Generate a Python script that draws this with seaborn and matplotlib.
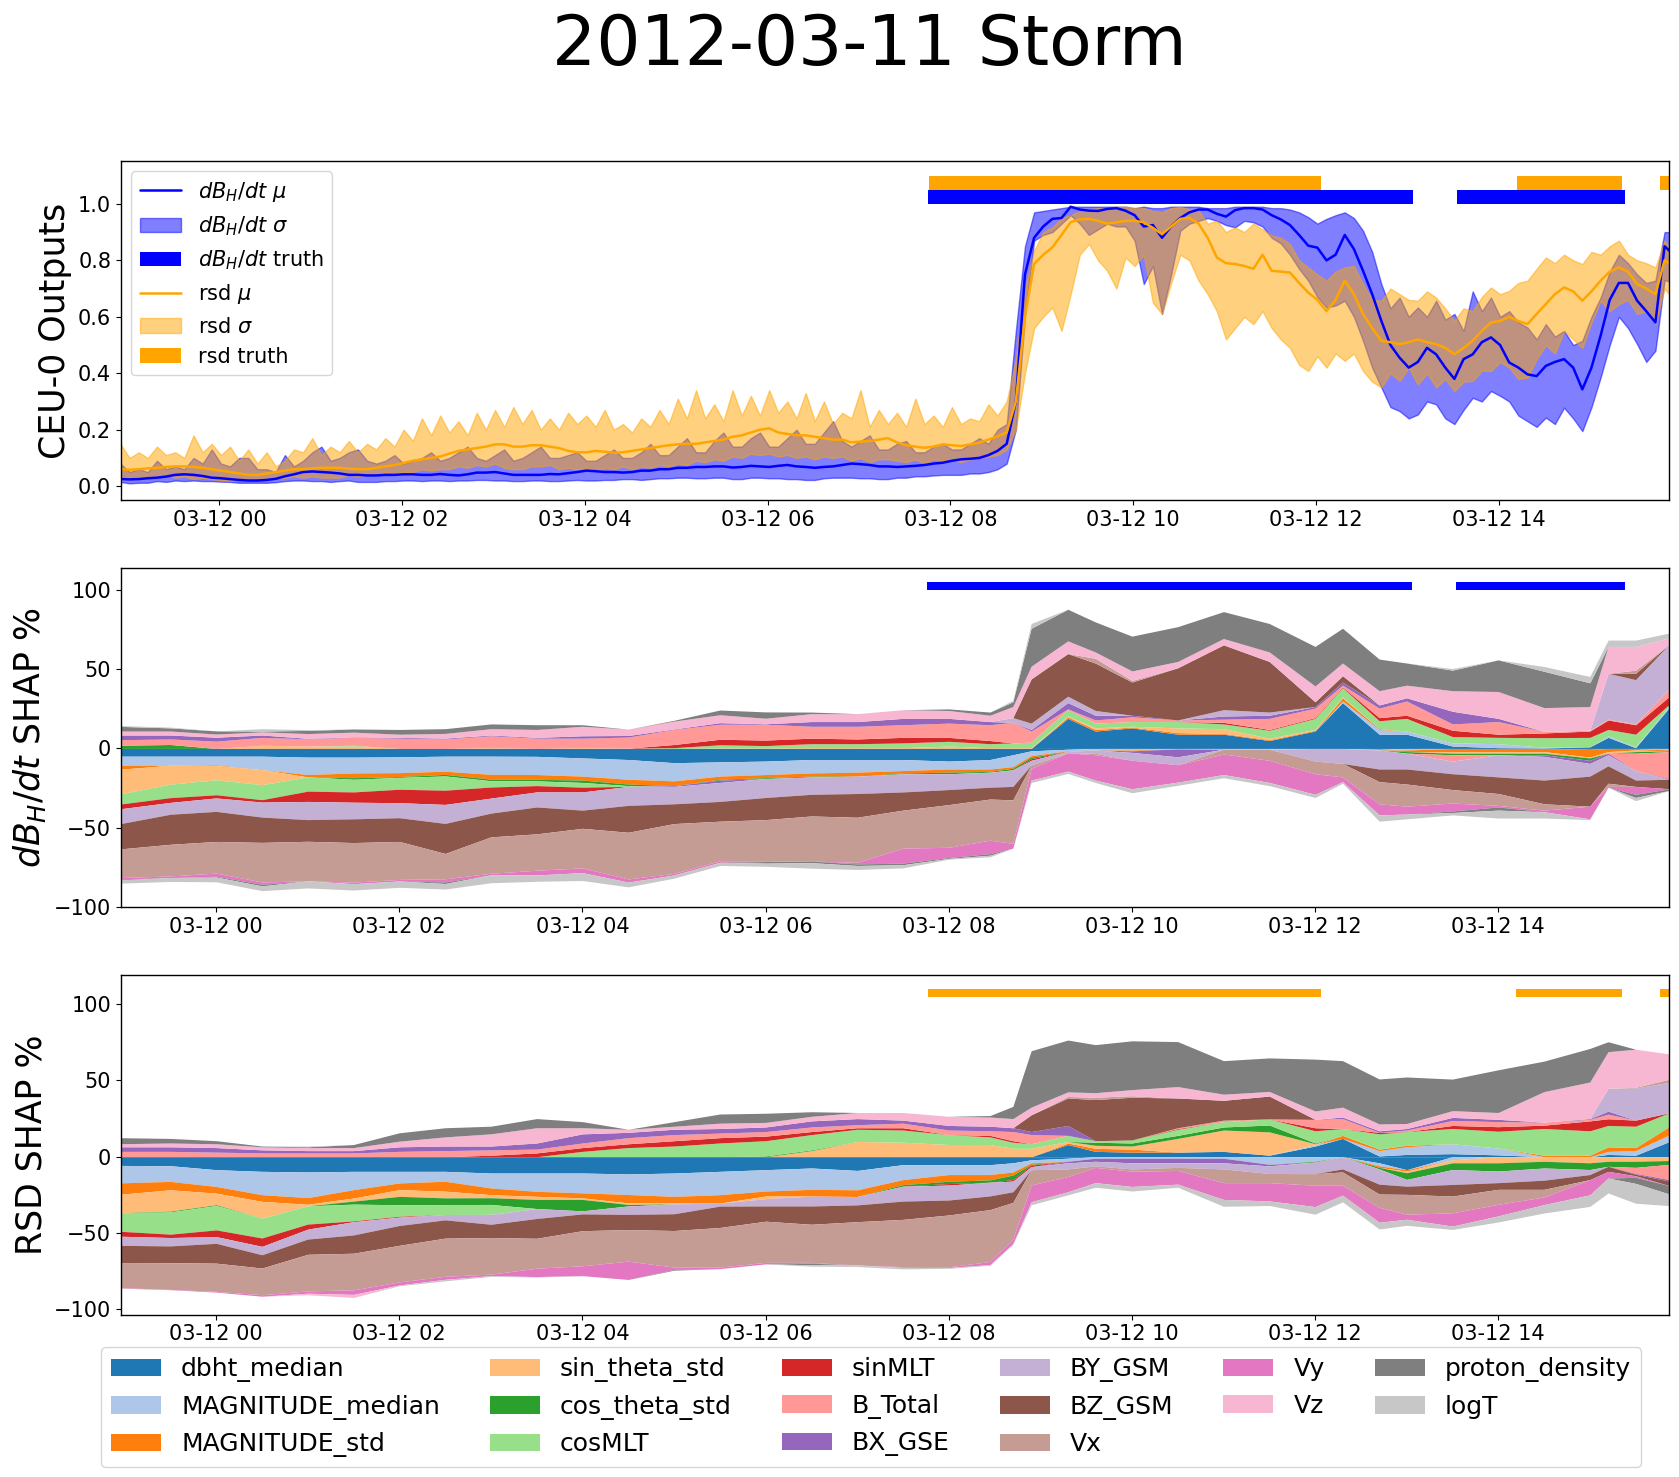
import numpy as np
import pandas as pd
import seaborn as sns
import matplotlib.pyplot as plt
import matplotlib.dates as mdates

sns.set_style("ticks")
plt.rcParams["font.family"] = "DejaVu Sans"
plt.rcParams["text.color"] = "black"
plt.rcParams["axes.labelcolor"] = "black"

storm_title = "2012-03-11 Storm"

features = ["dbht_median", "MAGNITUDE_median", "MAGNITUDE_std", "sin_theta_std", "cos_theta_std",
            "cosMLT", "sinMLT", "B_Total", "BX_GSE", "BY_GSM", "BZ_GSM", "Vx", "Vy", "Vz",
            "proton_density", "logT"]

# model outputs, one reading every 6 minutes from 03-11 22:55 (10 per line = 1 hour)
dbdt_mu = [.025, .024, .025, .028, .03, .034, .04, .042, .04, .036,
           .03, .028, .025, .022, .02, .02, .022, .026, .035, .042,
           .05, .052, .05, .048, .045, .04, .04, .038, .038, .04,
           .04, .042, .042, .04, .04, .043, .04, .038, .042, .048,
           .048, .05, .045, .04, .04, .04, .04, .043, .042, .046,
           .05, .055, .053, .05, .05, .048, .05, .055, .055, .06,
           .06, .065, .065, .068, .068, .07, .07, .066, .068, .072,
           .07, .068, .072, .075, .07, .068, .065, .068, .07, .075,
           .08, .078, .075, .07, .07, .068, .07, .072, .075, .08,
           .083, .09, .095, .097, .1, .11, .125, .15,
           .3, .75,
           .88, .92, .947, .95, .99, .98, .976, .975, .982, .985,
           .976, .96, .92, .925, .88, .92, .95, .97, .98, .98,
           .965, .955, .978, .985, .985, .98, .96, .945, .925, .89,
           .852, .845, .8, .82, .89, .84, .763, .68, .586, .5,
           .455, .42, .44, .49, .467, .42, .38, .45, .467, .51,
           .527, .5, .438, .42, .396, .39, .426, .44, .45, .42,
           .343, .42, .533, .66, .72, .72, .657, .62, .58, .85, .82]
dbdt_up = [.08, .05, .06, .05, .09, .06, .07, .06, .1, .08,
           .13, .08, .07, .1, .1, .06, .06, .05, .11, .07,
           .09, .12, .14, .09, .1, .12, .13, .09, .08, .09,
           .11, .08, .09, .1, .12, .09, .1, .12, .14, .1,
           .09, .11, .13, .09, .1, .12, .14, .1, .1, .11,
           .12, .09, .09, .11, .13, .1, .1, .12, .15, .11,
           .11, .14, .17, .12, .12, .16, .19, .14, .14, .17,
           .19, .14, .14, .17, .2, .15, .15, .19, .23, .16,
           .14, .16, .18, .13, .13, .15, .16, .12, .12, .14,
           .15, .13, .13, .15, .17, .15, .2, .22,
           .55, .85,
           .97, .975, .98, .985, .99, .99, .99, .99, .99, .99,
           .99, .985, .99, .985, .985, .99, .99, .99, .99, .985,
           .985, .985, .99, .99, .99, .99, .985, .985, .98, .97,
           .953, .93, .947, .96, .97, .95, .905, .83, .716, .63,
           .668, .6, .633, .6, .657, .59, .61, .55, .69, .62,
           .668, .6, .62, .58, .562, .52, .574, .53, .55, .5,
           .515, .6, .668, .76, .82, .79, .75, .72, .728, .9, .9]
dbdt_lo = [.015, .01, .012, .012, .018, .015, .02, .018, .02, .018,
           .018, .016, .015, .012, .012, .012, .012, .014, .018, .02,
           .02, .018, .018, .015, .018, .02, .015, .015, .015, .018,
           .018, .02, .02, .018, .02, .02, .018, .02, .02, .022,
           .022, .02, .02, .018, .018, .02, .02, .018, .018, .02,
           .022, .02, .02, .022, .022, .025, .025, .022, .025, .028,
           .028, .03, .03, .028, .028, .03, .03, .025, .025, .03,
           .03, .028, .028, .025, .025, .022, .022, .028, .03, .03,
           .03, .028, .028, .025, .025, .03, .03, .035, .035, .038,
           .04, .04, .04, .045, .045, .05, .06, .08,
           .2, .6,
           .87, .89, .9, .93, .96, .93, .89, .91, .93, .92,
           .92, .87, .716, .78, .61, .75, .905, .93, .94, .95,
           .94, .925, .917, .94, .935, .92, .88, .86, .82, .77,
           .728, .67, .633, .64, .657, .6, .515, .42, .35, .28,
           .266, .24, .254, .3, .29, .24, .22, .27, .313, .3,
           .337, .32, .3, .25, .23, .21, .243, .22, .278, .24,
           .195, .28, .385, .5, .6, .56, .503, .44, .48, .73, .72]
rsd_mu = [.06, .058, .06, .063, .065, .068, .07, .07, .068, .065,
          .06, .055, .05, .045, .04, .04, .045, .05, .055, .06,
          .06, .063, .065, .065, .065, .062, .06, .06, .065, .07,
          .075, .082, .09, .095, .1, .105, .115, .125, .13, .135,
          .14, .148, .148, .14, .14, .145, .145, .14, .135, .125,
          .12, .12, .125, .122, .118, .12, .125, .13, .135, .14,
          .145, .148, .15, .15, .155, .16, .165, .175, .18, .19,
          .2, .205, .19, .185, .18, .18, .175, .17, .165, .165,
          .155, .158, .16, .165, .17, .155, .145, .14, .136, .14,
          .148, .145, .142, .148, .154, .165, .177, .19,
          .3, .6,
          .787, .82, .846, .89, .935, .945, .947, .94, .93, .935,
          .94, .94, .935, .915, .893, .92, .947, .95, .93, .88,
          .81, .79, .787, .78, .77, .82, .763, .76, .757, .72,
          .686, .66, .62, .66, .728, .68, .61, .56, .515, .51,
          .503, .51, .52, .51, .503, .49, .467, .49, .515, .55,
          .58, .585, .6, .585, .574, .61, .645, .68, .704, .69,
          .657, .69, .728, .76, .775, .76, .716, .7, .68, .8, .78]
rsd_up = [.15, .1, .12, .1, .14, .11, .12, .1, .18, .12,
          .15, .11, .14, .09, .13, .08, .12, .07, .09, .13,
          .12, .17, .11, .14, .12, .16, .12, .15, .13, .17,
          .14, .2, .16, .24, .18, .25, .19, .23, .18, .26,
          .2, .27, .21, .28, .22, .27, .2, .24, .2, .26,
          .22, .25, .21, .27, .2, .22, .19, .24, .21, .27,
          .22, .31, .24, .34, .24, .29, .23, .34, .25, .32,
          .25, .34, .26, .3, .24, .33, .23, .3, .22, .26,
          .24, .34, .21, .27, .22, .26, .21, .31, .22, .25,
          .21, .28, .22, .24, .23, .29, .25, .3,
          .45, .7,
          .834, .9, .917, .95, .96, .975, .98, .985, .98, .99,
          .99, .985, .985, .975, .97, .985, .99, .98, .976, .93,
          .94, .9, .917, .9, .93, .91, .888, .88, .858, .8,
          .775, .75, .728, .76, .775, .78, .716, .66, .657, .7,
          .68, .66, .657, .69, .668, .63, .586, .63, .62, .67,
          .704, .68, .692, .72, .728, .77, .81, .79, .82, .8,
          .787, .83, .82, .85, .87, .82, .8, .79, .775, .87, .82]
rsd_lo = [.02, .03, .025, .03, .03, .04, .03, .035, .025, .03,
          .025, .02, .02, .025, .02, .025, .025, .03, .03, .035,
          .03, .035, .03, .03, .03, .04, .035, .04, .04, .05,
          .045, .05, .05, .06, .055, .06, .06, .07, .065, .075,
          .07, .08, .065, .06, .06, .07, .07, .075, .06, .065,
          .06, .065, .055, .065, .06, .07, .06, .07, .065, .075,
          .07, .08, .075, .09, .085, .095, .09, .105, .1, .115,
          .11, .115, .105, .11, .1, .105, .095, .105, .1, .105,
          .09, .1, .085, .095, .095, .09, .085, .095, .08, .095,
          .09, .095, .085, .095, .1, .105, .11, .13,
          .2, .4,
          .56, .6, .633, .55, .68, .82, .858, .8, .763, .7,
          .81, .78, .82, .65, .61, .72, .82, .8, .728, .68,
          .62, .52, .56, .6, .574, .62, .56, .52, .49, .43,
          .408, .46, .42, .47, .444, .47, .408, .37, .35, .4,
          .373, .42, .36, .4, .35, .38, .337, .37, .373, .41,
          .408, .44, .42, .38, .385, .45, .5, .47, .55, .52,
          .49, .58, .657, .62, .645, .66, .61, .62, .574, .7, .66]

# warning periods, hours after 03-12 00:00
dbdt_truth_start = [7.76, 13.54]
dbdt_truth_end = [13.06, 15.38]
rsd_truth_start = [7.77, 14.2, 15.77]
rsd_truth_end = [12.06, 15.35, 16.0]

# SHAP shares are read at these hours after 03-12 00:00
shap_hours = [-1.08, -.5, 0, .5, 1, 1.5, 2, 2.5, 3, 3.5,
              4, 4.5, 5, 5.5, 6, 6.5, 7, 7.5, 8, 8.45,
              8.7, 8.9, 9.3, 9.6, 10, 10.5, 11, 11.5, 12, 12.3,
              12.7, 13, 13.5, 14, 14.5, 15, 15.2, 15.5, 15.87]
none = [0] * 39

# dB/dt SHAP, above zero
dp_dbht = [0] * 20 + [0, 0, 19, 11, 13, 9, 9, 5, 11, 29, 9, 9, 1.5, .5, .3, 1, 7, .5, 26]
dp_magmed = [0] * 29 + [1, 3, 2, 2, 2.5, .5, 0, 1, .5, 1]
dp_magstd = [0] * 22 + [1, 1, .5, 1, .5, .5, .5, 2, .5, 0, 0, 0, 0, 0, 0, 0, 0]
dp_sin = [0, 0, 0, 2, 1.5, 1.5, 0, 0, .5, 0, .5, .2, 0, .3, .3, .5, .5, .5, 1.5, .5,
          .5, .5, .5, 1, .5, 3, 3, 1, .5, .5, 0, 0, 0, 0, 0, 0, 0, 0, 0]
dp_cos = [2, 2.5] + [0] * 37
dp_cosmlt = [0, 0, 0, 0, 0, .5, 0, 0, 0, 0, 0, 0, .5, 2, 1.5, 2.5, 2.5, 3, 3, 2.5,
             3, 3.5, 4, 3, 3, 4, 3, 5, 7, 6, 5, 8, 4, 4, 6, 6, 4, 8, 1]
dp_sinmlt = [0] * 12 + [2, 3.5, 3.5, 3.5, 3, 3.5, 2.5, 2, 0, 0, 0, 0, 0, 0, 1, .5, .5, .5, 2, 2, 4, 2, 3, 4, 6, 6, 5]
dp_btotal = [3.5, 3.5, 4.6, 5, 4.6, 5, 6.5, 6, 7.5, 6.5, 6, 7, 9.5, 9.5, 10, 7.5, 8, 8, 9, 10,
             13, 7, .5, 2, 3, 1, 2, 7, 6, 1, 6, 9, 4, 8, 1, .5, .5, .5, 5]
dp_bx = [3, 2.5, 2.5, 1.5, .3, .3, .5, .5, .5, .5, 1.5, 1, .3, 1, .3, 3, 3, 4, 3, 2,
         0, 1, 4, 3, 1, 0, 2, 2, 1, 2, 2, 2, 8, 2, 0, 0, 0, 0, 0]
dp_by = [0] * 20 + [3, 4, 4, 3, 0, 0, 4, 2, 0, 0, 0, 0, 0, 0, 0, 0, 29, 28, 28]
dp_bz = [0] * 21 + [28, 27, 30, 21, 33, 41, 32, 3, 4, 0, 0, 0, 0, 0, 0, 0, 4, 0]
dp_vx = [0] * 23 + [3, 1, 0, 0, 0, 0, 0, 0, 0, 0, 0, 0, 0, 0, 2, 0]
dp_vz = [2.5, 2.5, 2, 2, 3, 3, 2, 3, 4, 5, 6, 4, 5, 5, 3.5, 5, 5, 5.5, 5, 4,
         7, 8, 8, 4, 6, 4, 4, 6, 10, 8, 9, 8, 13, 17, 15, 15, 17, 15, 4]
dp_proton = [3, 2, 2, .5, 2, 2, 3, 3, 3, 3, 1, 0, .5, 3, 4, 1, 0, 0, 1, 2,
             3, 24, 20, 19, 22, 22, 17, 18, 25, 22, 20, 14, 13, 20, 23, 15, 0, 0, 0]
dp_logt = [.5, .5, 0, 1.5, .5] + [0] * 15 + [1, 3] + [0] * 10 + [1, 0, 3, 4, 4, 4, 3]

# dB/dt SHAP, below zero
dn_dbht = [4.9, 4.9, 4.9, 4.9, 5.5, 5.5, 5.3, 4.9, 4.9, 5, 6, 7, 9, 8.5, 8, 7, 7, 7, 8, 7,
           4, 1.5, .5, 0, 0, 0, 0, 0, 0, 0, .5, 0, 0, 0, 0, .5, 0, 0, 0]
dn_magmed = [5.7, 5.7, 5.5, 8.5, 11, 10, 10, 9.5, 11.5, 11.5, 11.5, 12.5, 11.5, 9, 8.5, 8.5, 8, 7, 5, 6,
             7.5, 3, 1, 1, 1, .3, .5, .5, 0, 0, .5, 1, 0, 0, 0, 0, 0, 0, 1]
dn_magstd = [2.7, 0, .4, 0, 1.5, 3, 2.5, 2, 3, 3, 2.5, 3, 3, 2, 2, 2, 2.5, 1.5, 2, 1.5,
             1, 1, .3, 0, .5, 0, 0, 0, 0, 0, 0, 1, 2, 2, 2, 5, 2, 1, .5]
dn_sin = [15.8, 12, 9, 9.5] + [0] * 28 + [1, 1, 1, .5, 1, 1, 0]
dn_cos = [0, 0, 0, 0, 0, 1, .5, 1, 1, 1, 1.5, 1, 0, .5, .5, .5, 0, .5, 1, .5,
          1, 1, 0, 0, 0, 0, 0, 0, 0, 0, 0, 1, 1, 1, 1, 1.5, 0, 1, .5]
dn_cosmlt = [6.3, 8.5, 9.5, 9.5, 9, 8, 7.5, 9, 4, 3, 3, .5] + [0] * 27
dn_sinmlt = [3, 3, 2, 1.5, 6.5, 6.5, 8.5, 9, 7, 4, 3] + [0] * 10 + [1] + [0] * 17
dn_btotal = [0] * 32 + [4, 0, 0, 0, 0, 11, 17]
dn_bx = [0] * 12 + [.5, 1.5] + [0] * 10 + [1, 5] + [0] * 8 + [1, 2, 1, 0, .5]
dn_by = [9.5, 7.5, 8.5, 9.5, 11.5, 10.5, 9.5, 12, 9.5, 9.5, 11.5, 12, 11, 12, 12, 11, 11, 11.5, 10, 9.5,
         10.5, 3, 1, 2, 5, 5, 0, 0, 8, 9.5, 12, 10, 8, 14, 15, 8, 7, 6, 0]
dn_bz = [15.8, 19, 19, 16, 13.7, 15, 15, 19, 15, 17, 11.5, 17, 12.5, 12.5, 14, 13.7, 15, 11.5, 9.5, 7.5,
         8.5, 0, 0, 0, 0, 0, 0, 0, 0, 0, 8, 9.5, 10, 10.5, 15, 19, 11, 4, 6]
dn_vx = [18, 20, 20, 25, 25, 25, 24, 16, 23, 23, 25, 29.5, 31.5, 25, 26, 28.5, 28.5, 24, 27, 26,
         27.5, 2, 0, 1, 0, 0, 3, 7, 8, 8.5, 14, 14, 8.5, 7.5, 4, 0, 2, 0, 0]
dn_vy = [1, 1, 2, 1.5, 0, 1, 1, 2, 1, 3, 3, 2, 1, 1, .5, 0, 1, 9.5, 6.5, 8.5,
         3, 7.5, 11.5, 16, 18, 11, 13, 14, 13, 3, 7, 5, 5, 1, 1, 8, .5, 5, 0]
dn_proton = [.5, 0, .5, 1, 0, 0, 0, 1, 0, 0, 0, 0, 0, 0, 1, 1, 1, 1, .5, 1,
             0, 0, 0, 0, 0, 0, 0, 0, 0, 0, 0, 0, 1, 2, 0, 0, 0, 2, 1]
dn_logt = [2, 2.5, 3, 3, 4.5, 4, 4, 3.5, 5, 4, 5, 3, 2, 2, 2, 3.5, 2.5, 2, .5, 1,
           0, 1.5, 1.5, 1.5, 2.5, 2, 2, 2, 2, 1, 4, 3, 1.5, 5, 4, .5, 0, 2, 0]

# RSD SHAP, above zero
rp_dbht = [0] * 22 + [8, 3.5, 3, 3, 3.5, 1, 7, 12, .5, 1.5, 2, 1.2, 0, 0, 1.5, 1, 10]
rp_magmed = [0] * 28 + [1, 0, 3.5, 5, 6.5, 4.5, 0, 0, 2, 3, 4.4]
rp_magstd = [0] * 22 + [1, 2, 2, 0, 0, 0, 0, 2, 1, 1, 0, 0, 1, 1, 3, 2, 5.5]
rp_sin = [0] * 15 + [4, 10, 9.5, 8, 8, 5.5, 5.5, 1, 2, 2, 9, 14, 15.3, .5] + [0] * 10
rp_cos = [0] * 14 + [.5, .5] + [0] * 7 + [2, 2, 2, 2, 4.5, .5] + [0] * 10
rp_cosmlt = [0] * 10 + [3.5, 6, 7, 9, 10, 10, 8, 8, 6.5, 5, 4, 3, 4, 1, 2, 4, 3.5, 4, 8, 4.5,
                        10, 9, 10, 11, 17.5, 16, 14, 14, 9]
rp_sinmlt = [0] * 8 + [1, 2.5, 2.5, 2.5, 3.5, 3.5, 3, 2, 1, 1.5, 0, 1, 1, 0, 0, 0, 0, .5, 0, 0, 2, 0,
                       1, 0, 2, 3, 2.2, 6.5, 4.4, 4, 0]
rp_btotal = [3.5, 3.5, 3, 2.5, 2.5, 2.5, 3.5, 4, 3.5, 2.5, 3, 4, 4, 3, 3, 3, 2, 3, 3, 3,
             6, 6, 0, 0, 0, .5, 1, 0, 5.5, 6.5, 0, 1, 3.3, 3.3, 2, 1, 3, 0, 0]
rp_bx = [3, 3, 3, 2, 1.5, 1.5, 3, 3, 2.5, 4, 6, 3.5, 3.5, 3, 3, 4, 4, 2, 3, 3,
         2.5, 2, 6.5, 0, 0, 0, 0, 0, 0, 1, 1, 1, 2, 1.5, 0, .5, 2, 0, 0]
rp_by = [0] * 36 + [15, 21, 20]
rp_bz = [0] * 21 + [11, 18, 27, 28, 19.5, 13, 15] + [0] * 11
rp_vx = [0] * 22 + [1, 1.5, 1] + [0] * 12 + [.5, 2]
rp_vz = [2, 2.5, 2.5, 2, 2, 2, 3.7, 6, 8, 10, 4, 2, 2, 3.5, 3, 3, 4, 5, 6, 6,
         6, 5, 3, 3, 4, 7.5, 4, 3, 5.5, 6.5, 4.5, 3.3, 4.4, 4.5, 20, 24, 24, 25, 16.5]
rp_proton = [4, 3, 2, .5, .5, 2, 5.5, 6, 5, 6, 4, 0, 3, 6, 6, 3, 0, 0, 0, 1,
             8, 37, 34, 31.5, 32, 29.5, 22, 22, 34, 30.5, 29.5, 30.5, 20.7, 28, 20, 22, 6.5, 0, 0]
rp_logt = [0, 0, 0, 0, .5] + [0] * 34

# RSD SHAP, below zero
rn_dbht = [5.7, 5.9, 8.5, 9.6, 10, 9.6, 9.6, 9.6, 10.7, 10.7, 10.7, 11.3, 10.7, 9.6, 8.5, 7.4, 9, 5.2, 5.2, 5.2,
           4, 2, 1, 0, 0, 0, 0, 0, 0, 0, 4, 8.5, 0, 0, 0, 0, 0, 0, 0]
rn_magmed = [11.5, 10.3, 11, 15.3, 16.8, 12, 7.6, 6.5, 9.8, 12, 13, 13.5, 15.3, 15.3, 14, 14, 12.7, 9.8, 6.5, 6.5,
             6, 2, 2, 1, 1, 1, 1, 5, 3, 0, 2, 0, 2, 0, 0, 0, 0, 0, 0]
rn_magstd = [7.6, 5.5, 4.4, 4.4, 4.4, 5.5, 4.4, 6.5, 4.4, 3.3, 3.3, 5.5, 4.4, 5.5, 3.3, 4.4, 4.4, 3.3, 4.4, 3.5,
             2, 1, 0, 0, 0, 0, 0, 0, 0, 0, 1, 1, 0, 0, 0, 0, 0, 0, 0]
rn_sin = [12, 14, 7.6, 11, 1, 2, 4.4, 4.4, 2, 2, 1, 1, .5, 0, 1.7, 0, 0, 0, 0, 0,
          0, 0, 0, 0, 0, 0, 0, 0, 0, 0, 0, 1, 2, 4, 3, 4, 3, 3, 2.5]
rn_cos = [0, .5, .5, 0, 0, 2, 5.5, 4.4, 4.4, 6, 7.5, 1, 0, 0, 0, 0, 0, 1, 1.5, 1.5,
          3, .5, 0, 0, 0, 0, 0, 0, .5, 0, 1, 4.4, 4.4, 5.4, 4.4, 4.4, 3.3, 4, 2.5]
rn_cosmlt = [12, 14.6, 16, 13, 12, 11, 7.6, 6.5, 6.5] + [0] * 30
rn_sinmlt = [3.3, 2.2, 4.4, 5.5, 3.3, .5, .5] + [0] * 11 + [1, 0, 1, 1] + [0] * 17
rn_btotal = [0] * 37 + [4, 10]
rn_bx = [0] * 22 + [1, 2, 3, 3, 3, 1] + [0] * 9 + [.5, 1]
rn_by = [6, 5.5, 4.4, 5.5, 6.5, 8.7, 5.5, 3.5, 6.5, 6.5, 2, 5.5, 6.5, 2, 4.8, 6.5, 5.5, 9.8, 9.8, 9,
         7, 2, 4, 3, 4, 3, 4, 5, 7.6, 8, 10, 4.4, 9.8, 7.6, 8, 3.3, 0, 0, 0]
rn_bz = [11.3, 11, 13, 8.7, 10, 12, 13, 12, 8.7, 13, 11, 10, 11, 14, 10, 12, 11, 12, 9.8, 9,
         7, 0, 0, 0, 0, 0, 0, 0, 0, 2, 6.5, 5.4, 7.6, 4.4, 6, 3.3, 3.3, 1, 3]
rn_vx = [16.4, 17.5, 18.5, 17.5, 24, 24, 24, 25, 24, 19.6, 23, 20.7, 24, 26, 27, 25, 28.4, 31, 34, 34,
         24, 10, 5, 1, 1.5, 2, 9, 6, 7.6, 8.7, 8.7, 13, 11, 9.8, 5, 0, 0, 0, 0]
rn_vy = [.3, .2, .5, 1, 1.5, 3, 2, 2, 1, 5.5, 6.5, 12, 1.5, 1, 1, .5, 0, .5, .5, 2,
         3, 11, 10, 10, 10, 9, 11, 12, 14, 6.5, 9.8, 3.3, 8.7, 7.6, 5, 10, 4.4, 1, 0]
rn_vz = [0, 0, 0, 0, 1, 2] + [0] * 33
rn_proton = [0] * 12 + [.5, 0, 0, 1] + [0] * 21 + [4, 5.5]
rn_logt = [0, 0, 0, 0, 0, 0, .5, 1, .5, .3, 0, 0, 0, 0, 0, 1, 1, 1, .5, .5,
           .5, 2, 2, 3, 3, 2, 4.5, 3, 5, 4.4, 4.4, 4, 2.2, 4, 5.5, 7.6, 9.8, 13, 7.6]

dbdt_pos = [dp_dbht, dp_magmed, dp_magstd, dp_sin, dp_cos, dp_cosmlt, dp_sinmlt, dp_btotal,
            dp_bx, dp_by, dp_bz, dp_vx, none, dp_vz, dp_proton, dp_logt]
dbdt_neg = [dn_dbht, dn_magmed, dn_magstd, dn_sin, dn_cos, dn_cosmlt, dn_sinmlt, dn_btotal,
            dn_bx, dn_by, dn_bz, dn_vx, dn_vy, none, dn_proton, dn_logt]
rsd_pos = [rp_dbht, rp_magmed, rp_magstd, rp_sin, rp_cos, rp_cosmlt, rp_sinmlt, rp_btotal,
           rp_bx, rp_by, rp_bz, rp_vx, none, rp_vz, rp_proton, rp_logt]
rsd_neg = [rn_dbht, rn_magmed, rn_magstd, rn_sin, rn_cos, rn_cosmlt, rn_sinmlt, rn_btotal,
           rn_bx, rn_by, rn_bz, rn_vx, rn_vy, rn_vz, rn_proton, rn_logt]

midnight = pd.Timestamp("2012-03-12 00:00")
out_times = pd.date_range("2012-03-11 22:55", periods=len(dbdt_mu), freq="6min")
shap_times = midnight + pd.to_timedelta(shap_hours, unit="h")


def at_hour(h):
    return midnight + pd.Timedelta(hours=h)


def draw_truth(ax, starts, ends, low, high, color, label=None):
    for i, (a, b) in enumerate(zip(starts, ends)):
        ax.fill_between([at_hour(a), at_hour(b)], low, high, color=color, lw=0,
                        label=label if i == 0 else None)


def draw_shap(ax, pos, neg, colors):
    ax.stackplot(shap_times, np.array(pos, dtype=float), colors=colors, labels=features, lw=0)
    ax.stackplot(shap_times, -np.array(neg, dtype=float), colors=colors, lw=0)


palette = sns.color_palette("tab20", 16)

fig, axes = plt.subplots(3, 1, figsize=(16.79, 14.77), dpi=100)
fig.subplots_adjust(left=.072, right=.9943, top=.891, bottom=.110, hspace=.2)

# outputs
ax = axes[0]
sns.lineplot(x=out_times, y=dbdt_mu, ax=ax, color="blue", lw=1.8, errorbar=None, label=r"$dB_H/dt\ \mu$")
ax.fill_between(out_times, dbdt_lo, dbdt_up, color="blue", alpha=.5, lw=1, label=r"$dB_H/dt\ \sigma$")
draw_truth(ax, dbdt_truth_start, dbdt_truth_end, 1.0, 1.05, "blue", r"$dB_H/dt$ truth")
sns.lineplot(x=out_times, y=rsd_mu, ax=ax, color="orange", lw=1.8, errorbar=None, label=r"rsd $\mu$")
ax.fill_between(out_times, rsd_lo, rsd_up, color="orange", alpha=.5, lw=1, label=r"rsd $\sigma$")
draw_truth(ax, rsd_truth_start, rsd_truth_end, 1.05, 1.10, "orange", "rsd truth")
ax.set_ylim(-.05, 1.152)
ax.set_xlim(at_hour(-1.078), at_hour(15.87))
ax.set_ylabel("CEU-0 Outputs", fontsize=25)
ax.set_xlabel("")
ax.legend(loc="upper left", fontsize=15)

# dB/dt SHAP
ax = axes[1]
draw_shap(ax, dbdt_pos, dbdt_neg, palette)
draw_truth(ax, dbdt_truth_start, dbdt_truth_end, 100, 105, "blue")
ax.set_ylim(-100.5, 114)
ax.set_xlim(at_hour(-1.04), at_hour(15.87))
ax.set_ylabel(r"$dB_H/dt$ SHAP %", fontsize=25)

# RSD SHAP
ax = axes[2]
draw_shap(ax, rsd_pos, rsd_neg, palette)
draw_truth(ax, rsd_truth_start, rsd_truth_end, 105, 110, "orange")
ax.set_ylim(-103.5, 119)
ax.set_xlim(at_hour(-1.04), at_hour(15.87))
ax.set_ylabel("RSD SHAP %", fontsize=25)

for ax in axes:
    ax.xaxis.set_major_locator(mdates.HourLocator(byhour=range(0, 24, 2)))
    ax.xaxis.set_major_formatter(mdates.DateFormatter("%m-%d %H"))
    ax.tick_params(labelsize=15, length=3.5, width=.8, colors="black")
    for spine in ax.spines.values():
        spine.set_visible(True)
        spine.set_color("black")
        spine.set_linewidth(1)

handles, labels = axes[1].get_legend_handles_labels()
fig.legend(handles[:16], labels[:16], loc="lower center", bbox_to_anchor=(.5187, -.0017), ncol=6, fontsize=18)
fig.suptitle(storm_title, fontsize=50, x=.518, y=.9695, va="center")

fig.savefig("out.png", dpi=100)
